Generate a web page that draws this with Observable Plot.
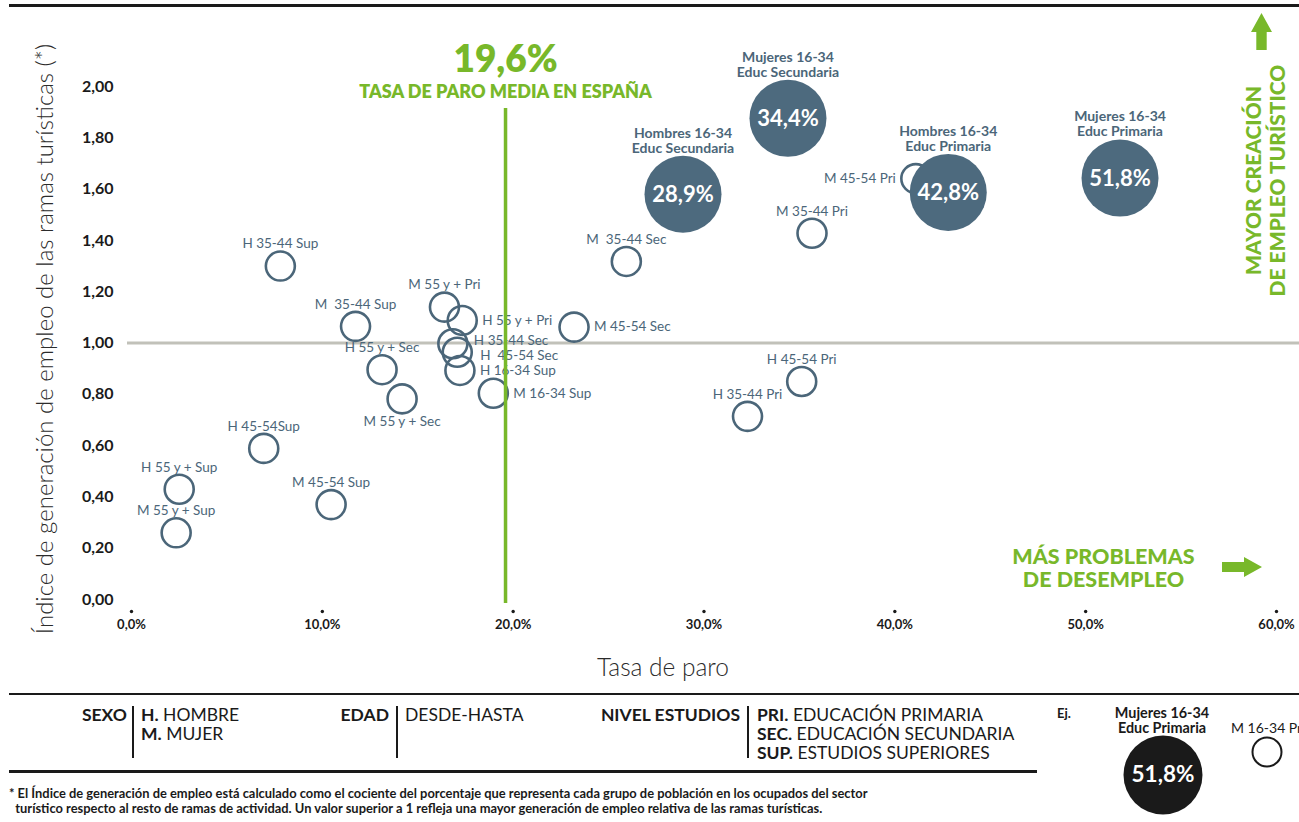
<!DOCTYPE html>
<html lang="es">
<head>
<meta charset="utf-8">
<script src="https://cdn.jsdelivr.net/npm/d3@7"></script>
<script src="https://cdn.jsdelivr.net/npm/@observablehq/plot@0.6"></script>
<style>
  body { margin: 0; background: #fff; font-family: Lato, "Noto Sans", sans-serif; color: #1a1a1a; }
  #wrap { position: relative; width: 1299px; height: 822px; overflow: hidden; background: #fff; }
  #chart { position: absolute; left: 0; top: 0; }
  #chart svg text { white-space: pre; }
  .rule { position: absolute; background: #1a1a1a; }
  .lg { position: absolute; font-size: 17.5px; line-height: 19px; white-space: nowrap; }
  .lg b { font-weight: 700; }
  .lgh { position: absolute; font-size: 17.5px; line-height: 19px; font-weight: 700; text-align: right; white-space: nowrap; }
  .bar { position: absolute; width: 1.6px; background: #1a1a1a; }
  .foot { position: absolute; left: 9px; top: 786px; font-size: 12.9px; line-height: 15px; font-weight: 700; white-space: nowrap; }
</style>
</head>
<body>
<div id="wrap">
  <div class="rule" style="left:9px;top:4px;width:1290px;height:2.5px"></div>
  <div id="chart"></div>

  <div class="rule" style="left:9px;top:692.5px;width:1290px;height:2.5px"></div>
  <div class="lgh" style="left:30px;width:97px;top:705px">SEXO</div>
  <div class="bar" style="left:132px;top:706px;height:52px"></div>
  <div class="lg" style="left:141px;top:705px"><b>H.</b> HOMBRE</div>
  <div class="lg" style="left:141px;top:724px"><b>M.</b> MUJER</div>

  <div class="lgh" style="left:290px;width:99px;top:705px">EDAD</div>
  <div class="bar" style="left:396px;top:706px;height:52px"></div>
  <div class="lg" style="left:405px;top:705px">DESDE-HASTA</div>

  <div class="lgh" style="left:520px;width:220px;top:705px">NIVEL ESTUDIOS</div>
  <div class="bar" style="left:747px;top:706px;height:52px"></div>
  <div class="lg" style="left:757px;top:705px"><b>PRI.</b> EDUCACIÓN PRIMARIA</div>
  <div class="lg" style="left:757px;top:724px"><b>SEC.</b> EDUCACIÓN SECUNDARIA</div>
  <div class="lg" style="left:757px;top:743px"><b>SUP.</b> ESTUDIOS SUPERIORES</div>

  <div class="rule" style="left:9px;top:770px;width:1028px;height:2.5px"></div>
  <div class="foot">* El Índice de generación de empleo está calculado como el cociente del porcentaje que representa cada grupo de población en los ocupados del sector<br>&nbsp;&nbsp;turístico respecto al resto de ramas de actividad. Un valor superior a 1 refleja una mayor generación de empleo relativa de las ramas turísticas.</div>

  <svg id="ej" width="259" height="132" style="position:absolute;left:1040px;top:690px;overflow:hidden" font-family="Lato, sans-serif">
    <text x="17" y="25" font-size="13" font-weight="700" fill="#1a1a1a" dominant-baseline="middle">Ej.</text>
    <text x="122" y="24" font-size="14.4" font-weight="700" fill="#1a1a1a" text-anchor="middle" dominant-baseline="middle">Mujeres 16-34</text>
    <text x="122" y="39" font-size="14.4" font-weight="700" fill="#1a1a1a" text-anchor="middle" dominant-baseline="middle">Educ Primaria</text>
    <circle cx="123" cy="85" r="39.5" fill="#1a1a1a"></circle>
    <text x="123" y="86" font-size="22.5" font-weight="700" fill="#fff" text-anchor="middle" dominant-baseline="middle">51,8%</text>
    <text x="191" y="39" font-size="14" fill="#1a1a1a" dominant-baseline="middle">M 16-34 Pri</text>
    <circle cx="227" cy="62" r="14.5" fill="none" stroke="#1a1a1a" stroke-width="2"></circle>
  </svg>
</div>

<script>
// ---------- DATA ----------
// Grupos (sexo, edad, nivel de estudios)
const grupos = [
  "H 35-44 Sup", "M  35-44 Sup", "M 55 y + Pri", "H 55 y + Pri", "H 35-44 Sec",
  "H  45-54 Sec", "H 16-34 Sup", "M 16-34 Sup", "H 55 y + Sec", "M 55 y + Sec",
  "M 45-54 Sec", "M  35-44 Sec", "M 35-44 Pri", "M 45-54 Pri", "H 45-54 Pri",
  "H 35-44 Pri", "H 45-54Sup", "H 55 y + Sup", "M 55 y + Sup", "M 45-54 Sup"
];
// Tasa de paro (%)
const tasaParo = [
  7.80, 11.74, 16.40, 17.33, 16.84,
  17.07, 17.21, 18.96, 13.13, 14.18,
  23.19, 25.93, 35.66, 41.10, 35.12,
  32.28, 6.93, 2.50, 2.34, 10.46
];
// Índice de generación de empleo de las ramas turísticas
const indiceEmpleo = [
  1.30, 1.065, 1.14, 1.088, 0.997,
  0.964, 0.893, 0.804, 0.896, 0.782,
  1.062, 1.318, 1.428, 1.641, 0.850,
  0.714, 0.589, 0.430, 0.260, 0.370
];
// Grupos destacados
const destacados = [
  "Hombres 16-34\nEduc Secundaria", "Mujeres 16-34\nEduc Secundaria",
  "Hombres 16-34\nEduc Primaria", "Mujeres 16-34\nEduc Primaria"
];
const tasaParoDest = [28.9, 34.4, 42.8, 51.8];
const indiceDest = [1.580, 1.876, 1.587, 1.643];

const tasaMediaEspana = 19.6;
const xTicks = [0, 10, 20, 30, 40, 50, 60];
const yTicks = [0, 0.2, 0.4, 0.6, 0.8, 1.0, 1.2, 1.4, 1.6, 1.8, 2.0];

// Lado de la etiqueta respecto al círculo (por defecto: arriba)
const ladoEtiqueta = {
  "H 55 y + Pri": "right", "H 35-44 Sec": "rightUp", "H  45-54 Sec": "rightDown",
  "H 16-34 Sup": "right", "M 16-34 Sup": "right", "M 45-54 Sec": "right",
  "M 45-54 Pri": "left", "M 55 y + Sec": "bottom"
};

// ---------- STYLE ----------
const verde = "#78b82a";
const azul = "#4b6679";
const azulRelleno = "#4d6a7e";
const gris = "#c1c1b9";
const fmtPct = v => v.toFixed(1).replace(".", ",") + "%";

const puntos = grupos.map((g, i) => ({g, x: tasaParo[i], y: indiceEmpleo[i], side: ladoEtiqueta[g] || "top"}));
const dest = destacados.map((g, i) => ({g, x: tasaParoDest[i], y: indiceDest[i], pct: fmtPct(tasaParoDest[i])}));

const side = s => puntos.filter(d => d.side === s);
const lblOpts = {x: "x", y: "y", text: "g", fill: azul, fontSize: 13.5, fontFamily: "Lato, sans-serif"};
const mid = {textAnchor: "middle", lineAnchor: "middle"};

function flechas(index, scales, values, dims) {
  const g = d3.create("svg:g").attr("fill", verde);
  const right = dims.width - dims.marginRight;
  // flecha hacia arriba
  const ax = right - 14.5, t = 13;
  g.append("path").attr("d",
    `M${ax},${t} L${ax + 10.5},${t + 19} L${ax + 5.2},${t + 19} L${ax + 5.2},${t + 37} L${ax - 5.2},${t + 37} L${ax - 5.2},${t + 19} L${ax - 10.5},${t + 19} Z`);
  // flecha hacia la derecha
  const ay = dims.height - dims.marginBottom - 32, x0 = right - 54, x1 = right - 14;
  g.append("path").attr("d",
    `M${x1},${ay} L${x1 - 18},${ay - 10} L${x1 - 18},${ay - 5} L${x0},${ay - 5} L${x0},${ay + 5} L${x1 - 18},${ay + 5} L${x1 - 18},${ay + 10} Z`);
  return g.node();
}

const chart = Plot.plot({
  width: 1299,
  height: 690,
  marginLeft: 131,
  marginRight: 23,
  marginTop: 86,
  marginBottom: 91,
  x: {domain: [0, 60]},
  y: {domain: [0, 2]},
  style: {fontFamily: "Lato, sans-serif", background: "transparent", color: "#1a1a1a"},
  marks: [
    // ejes
    Plot.axisY({ticks: yTicks, tickFormat: d => d.toFixed(2).replace(".", ","), tickSize: 0, tickPadding: 18,
      label: null, fontSize: 16, fontWeight: 700, fill: "#1a1a1a"}),
    Plot.axisX({ticks: xTicks, tickFormat: fmtPct, tickSize: 0, tickPadding: 20,
      label: null, fontSize: 13, fontWeight: 700, fill: "#1a1a1a"}),
    Plot.dot(xTicks, {x: d => d, frameAnchor: "bottom", dy: 12, r: 1.7, fill: "#1a1a1a", stroke: null}),
    Plot.text(["Índice de generación de empleo de las ramas turísticas (*)"], {frameAnchor: "left", dx: -86, dy: -4,
      rotate: -90, ...mid, fontSize: 24, fontWeight: 300, fill: "#2b2b2b"}),
    Plot.text(["Tasa de paro"], {frameAnchor: "bottom", dx: -41, dy: 69, ...mid, fontSize: 24.5, fontWeight: 300, fill: "#2b2b2b"}),

    // índice = 1
    Plot.ruleY([1], {stroke: gris, strokeWidth: 3, insetLeft: -4, insetRight: -40}),

    // grupos
    Plot.dot(puntos, {x: "x", y: "y", r: 14.5, stroke: azul, strokeWidth: 2.6, fill: "none"}),
    Plot.text(side("top"), {...lblOpts, dy: -22}),
    Plot.text(side("bottom"), {...lblOpts, dy: 23}),
    Plot.text(side("right"), {...lblOpts, dx: 20, textAnchor: "start"}),
    Plot.text(side("rightUp"), {...lblOpts, dx: 21, dy: -3, textAnchor: "start"}),
    Plot.text(side("rightDown"), {...lblOpts, dx: 23, dy: 3, textAnchor: "start"}),
    Plot.text(side("left"), {...lblOpts, dx: -20, textAnchor: "end"}),

    // tasa media de paro en España
    Plot.ruleX([tasaMediaEspana], {stroke: verde, strokeWidth: 3.5, insetTop: 22, insetBottom: -4}),
    Plot.text([tasaMediaEspana], {x: d => d, frameAnchor: "top", text: d => fmtPct(d), dy: -26, ...mid,
      fill: verde, fontSize: 37, fontWeight: 800}),
    Plot.text([tasaMediaEspana], {x: d => d, frameAnchor: "top", text: () => "TASA DE PARO MEDIA EN ESPAÑA", dy: 6, ...mid,
      fill: verde, fontSize: 18, fontWeight: 800}),

    // grupos destacados
    Plot.dot(dest, {x: "x", y: "y", r: 38.5, fill: azulRelleno, stroke: null}),
    Plot.text(dest, {x: "x", y: "y", text: "pct", fill: "#fff", fontSize: 22, fontWeight: 700, dy: 1}),
    Plot.text(dest, {x: "x", y: "y", text: "g", fill: azul, fontSize: 14, fontWeight: 700, lineHeight: 1.08, dy: -54}),

    // anotaciones
    Plot.text(["MAYOR CREACIÓN\nDE EMPLEO TURÍSTICO"], {frameAnchor: "top-right", dx: -11, dy: 94, rotate: -90, ...mid,
      fill: verde, fontSize: 21, fontWeight: 900, lineHeight: 1.15}),
    Plot.text(["MÁS PROBLEMAS\nDE DESEMPLEO"], {frameAnchor: "bottom-right", dx: -173, dy: -31, ...mid,
      fill: verde, fontSize: 21.5, fontWeight: 900, lineHeight: 1.05}),
    flechas
  ]
});
document.getElementById("chart").append(chart);
</script>
</body>
</html>
